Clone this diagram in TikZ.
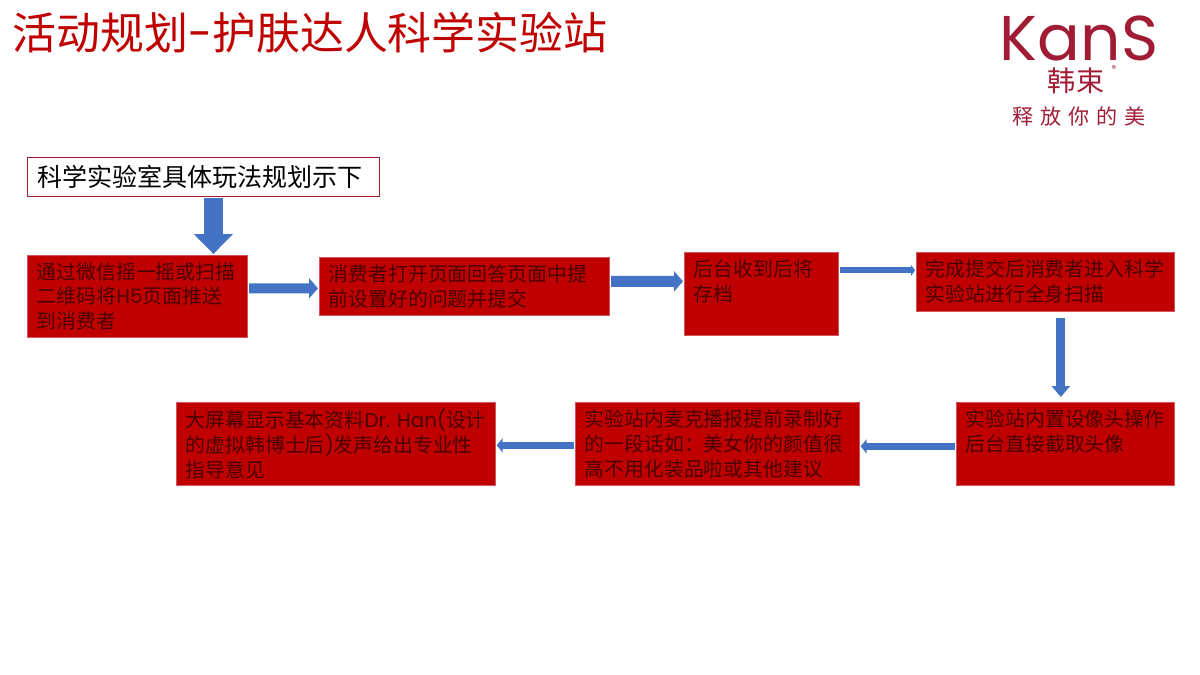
\documentclass[tikz,border=0pt]{standalone}
\usepackage{fontspec}
\setmainfont{Noto Sans CJK SC}
\newfontfamily\lat{Poppins}
\usetikzlibrary{arrows.meta}
\definecolor{boxred}{HTML}{C00000}
\definecolor{boxedge}{HTML}{D0555F}
\definecolor{flowblue}{HTML}{4472C4}
\definecolor{logored}{HTML}{A01C34}
\definecolor{boxink}{HTML}{4A0000}
\newcommand{\boxtext}[3]{\parbox[t][#2cm][t]{#1cm}{\raggedright #3}}
\tikzset{
  redbox/.style={draw=boxedge, line width=.4pt, fill=boxred, text=boxink, anchor=north west,
    inner xsep=.19cm, inner ysep=.14cm, font=\fontsize{11.3}{14.2}\selectfont},
  flow/.style n args={3}{draw=flowblue, line width=#1cm, shorten <=.03cm, shorten >=.02cm,
    -{Triangle[length=#3cm,width=#2cm,fill=flowblue]}}
}
\begin{document}
\begin{tikzpicture}[x=.02cm,y=-.02cm]
\useasboundingbox (0,0) rectangle (1200,675);
\node[anchor=west, inner sep=0, text=boxred, font=\fontsize{25}{28}\selectfont] (title) at (12,33) {活动规划{\lat -}护肤达人科学实验站};
\node[text=logored, inner sep=0, font=\lat\fontsize{36}{36}\selectfont] (kans) at (1079,38) {KanS};
\node[text=logored, inner sep=0, font=\fontsize{16}{18}\selectfont] (hans) at (1076,81) {韩\hspace{1pt}束};
\node[text=logored, inner sep=0, font=\fontsize{5}{5}\selectfont] (reg) at (1114,69) {®};
\node[text=logored, inner sep=0, font=\fontsize{12}{14}\selectfont] (motto) at (1079,116) {释\hspace{4pt}放\hspace{4pt}你\hspace{4pt}的\hspace{4pt}美};
\node[draw=logored, line width=.5pt, fill=white, anchor=north west, minimum height=.78cm, inner xsep=.2cm, inner ysep=0, text width=6.64cm, font=\fontsize{14.25}{17}\selectfont] (head) at (27,157) {科学实验室具体玩法规划示下};
\node[redbox] (scan) at (27,255) {\boxtext{4.02}{1.36}{通过微信摇一摇或扫描\\二维码将{\lat H5}页面推送\\到消费者}};
\node[redbox] (answer) at (319,257) {\boxtext{5.42}{.88}{消费者打开页面回答页面中提\\前设置好的问题并提交}};
\node[redbox] (store) at (684,252) {\boxtext{2.70}{1.38}{后台收到后将\\存档}};
\node[redbox] (enter) at (916,252) {\boxtext{4.78}{.90}{完成提交后消费者进入科学\\实验站进行全身扫描}};
\node[redbox] (camera) at (956,402) {\boxtext{3.98}{1.38}{实验站内置设像头操作\\后台直接截取头像}};
\node[redbox] (mic) at (575,402) {\boxtext{5.30}{1.38}{实验站内麦克播报提前录制好\\的一段话如：美女你的颜值很\\高不用化装品啦或其他建议}};
\node[redbox] (screen) at (176,402) {\boxtext{6.00}{1.38}{大屏幕显示基本资料{\lat Dr. Han(}设计\\的虚拟韩博士后{\lat )}发声给出专业性\\指导意见}};
\draw[flow={.38}{.76}{.40}] ([xshift=.2cm]head.south) -- ([xshift=.2cm]head.south |- scan.north);
\draw[flow={.20}{.40}{.18}] ([yshift=.16cm]scan.east) -- ([yshift=-.04cm]answer.west);
\draw[flow={.22}{.40}{.18}] ([yshift=.10cm]answer.east) -- ([yshift=.25cm]store.west);
\draw[flow={.12}{.22}{.08}] ([yshift=.47cm]store.east) -- ([yshift=.23cm]enter.west);
\draw[flow={.18}{.36}{.22}] ([xshift=.31cm,yshift=-.1cm]enter.south) -- ([xshift=.31cm,yshift=.08cm]enter.south |- camera.north);
\draw[flow={.14}{.28}{.12}] ([yshift=-.05cm]camera.west) -- ([yshift=-.05cm]mic.east);
\draw[flow={.14}{.28}{.12}] ([yshift=-.03cm]mic.west) -- ([yshift=-.03cm]screen.east);
\end{tikzpicture}
\end{document}
